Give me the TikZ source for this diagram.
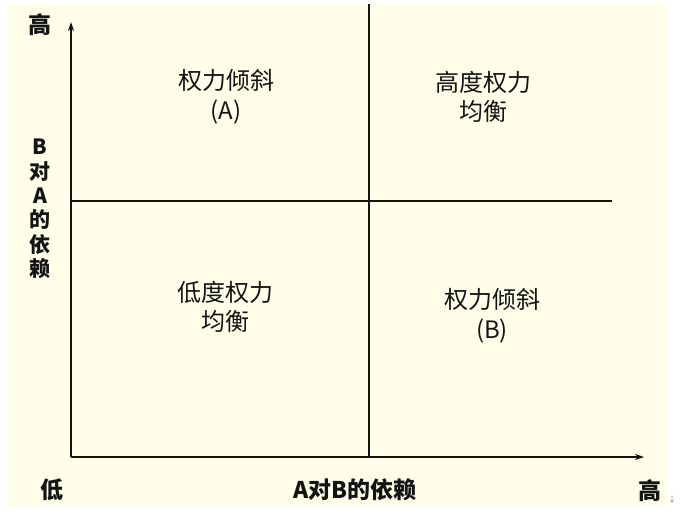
\documentclass[tikz,border=0pt]{standalone}
\usepackage{fontspec}
\setmainfont{Noto Sans CJK SC}
\usetikzlibrary{arrows.meta}
\definecolor{cream}{RGB}{255,254,232}
\definecolor{ink}{RGB}{20,20,20}
\tikzset{
  axis/.style={draw=ink, line width=1.4pt, -{Stealth[length=9pt,width=6pt]}},
  divider/.style={draw=ink, line width=2.4pt},
  quad/.style={align=center, font=\fontsize{24}{29.5}\selectfont, text=ink, inner sep=0pt},
  axlabel/.style={font=\fontsize{23}{24}\selectfont\bfseries, text=ink, inner sep=0pt},
}
\begin{document}
\begin{tikzpicture}[x=1pt,y=-1pt]
\useasboundingbox (0,0) rectangle (689,520);
\fill[cream] (8,4) rectangle (667,506);
\coordinate (O) at (71,457);
\coordinate (Ytop) at (71,22);
\coordinate (Xend) at (644,457);
\coordinate (Vtop) at (369,4);
\coordinate (Vbot) at (369,457);
\coordinate (Hl) at (71,201);
\coordinate (Hr) at (612,201);
\draw[axis] (O) -- (Ytop);
\draw[axis] (O) -- (Xend);
\draw[divider] (Vtop) -- (Vbot);
\draw[divider] (Hl) -- (Hr);
\node[quad] (qa) at (226,97) {权力倾斜\\(A)};
\node[quad] (qb) at (483,97) {高度权力\\均衡};
\node[quad] (qc) at (225,307) {低度权力\\均衡};
\node[quad] (qd) at (492,316) {权力倾斜\\(B)};
\node[axlabel] (yhigh) at (40,25) {高};
\node[axlabel, align=center, font=\fontsize{21}{24.4}\selectfont\bfseries] (ylab) at (40,209) {B\\对\\A\\的\\依\\赖};
\node[axlabel] (xlow) at (52,490) {低};
\node[axlabel] (xlab) at (355,490) {A对B的依赖};
\node[axlabel] (xhigh) at (650,491) {高};
\node[font=\fontsize{8}{8}\selectfont, text=gray, inner sep=0pt] (pm) at (672,499) {↓};
\end{tikzpicture}
\end{document}
